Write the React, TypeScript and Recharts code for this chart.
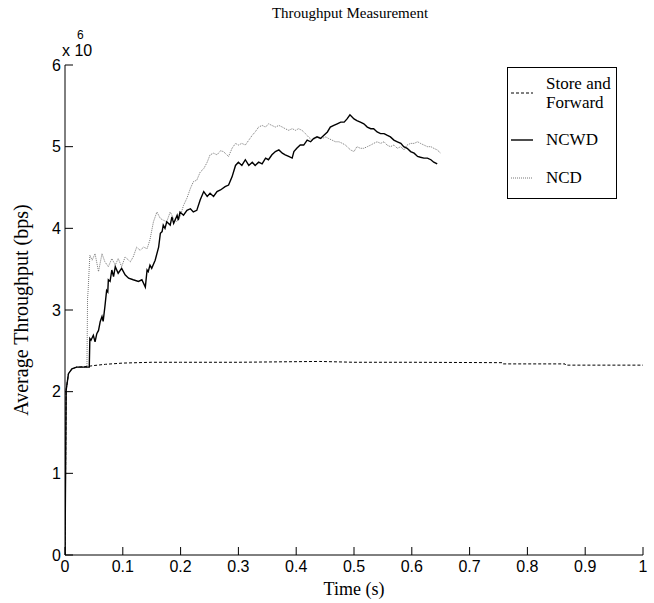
import React from 'react';
import { LineChart, Line, XAxis, YAxis } from 'recharts';

// Store and Forward (dashed), values in units of 10^6 bps
const sfTime = [0, 0.001, 0.002, 0.006, 0.012, 0.02, 0.04, 0.05, 0.07, 0.1, 0.15, 0.2, 0.3, 0.44, 0.5, 0.6, 0.757, 0.758, 0.865, 0.866, 1.0];
const sfValue = [0, 1.0, 2.02, 2.22, 2.28, 2.3, 2.31, 2.32, 2.335, 2.35, 2.36, 2.36, 2.36, 2.37, 2.36, 2.36, 2.355, 2.34, 2.34, 2.325, 2.325];

// NCWD (solid)
const ncwdTime = [
  0, 0.001, 0.002, 0.006, 0.012, 0.02, 0.042, 0.043, 0.045, 0.049, 0.052, 0.055, 0.058, 0.061, 0.064, 0.066,
  0.069, 0.072, 0.074, 0.075, 0.078, 0.081, 0.084, 0.087, 0.092, 0.098, 0.104, 0.11, 0.118, 0.127, 0.133,
  0.139, 0.142, 0.144, 0.147, 0.15, 0.156, 0.162, 0.165, 0.168, 0.17, 0.173, 0.176, 0.182, 0.185, 0.188,
  0.194, 0.196, 0.199, 0.205, 0.211, 0.217, 0.222, 0.228, 0.234, 0.24, 0.246, 0.251, 0.257, 0.263, 0.269,
  0.277, 0.283, 0.289, 0.295, 0.3, 0.306, 0.312, 0.318, 0.324, 0.329, 0.335, 0.341, 0.347, 0.352, 0.358,
  0.364, 0.37, 0.376, 0.381, 0.387, 0.393, 0.396, 0.401, 0.407, 0.413, 0.419, 0.425, 0.43, 0.436, 0.442,
  0.448, 0.454, 0.459, 0.465, 0.471, 0.477, 0.483, 0.488, 0.493, 0.5, 0.505, 0.511, 0.517, 0.523, 0.529,
  0.534, 0.54, 0.546, 0.552, 0.557, 0.563, 0.569, 0.575, 0.581, 0.586, 0.592, 0.598, 0.604, 0.61, 0.615,
  0.621, 0.627, 0.633, 0.638, 0.644,
];
const ncwdValue = [
  0, 1.0, 2.02, 2.22, 2.28, 2.3, 2.3, 2.65, 2.63, 2.69, 2.61, 2.71, 2.75, 2.86, 2.92, 2.86,
  3.04, 3.24, 3.22, 3.37, 3.35, 3.49, 3.41, 3.53, 3.45, 3.51, 3.43, 3.39, 3.37, 3.35, 3.37,
  3.28, 3.49, 3.47, 3.55, 3.51, 3.61, 3.77, 3.94, 3.96, 4.04, 4.0, 4.08, 4.04, 4.14, 4.06,
  4.16, 4.1, 4.2, 4.16, 4.22, 4.24, 4.2, 4.22, 4.35, 4.45, 4.39, 4.43, 4.39, 4.45, 4.47,
  4.51, 4.53, 4.63, 4.77, 4.81, 4.77, 4.84, 4.77, 4.81, 4.77, 4.81, 4.79, 4.86, 4.84, 4.9,
  4.94, 4.96, 4.92, 4.9, 4.88, 4.86, 4.94, 4.98, 5.02, 5.02, 5.08, 5.06, 5.1, 5.12, 5.1,
  5.14, 5.18, 5.24, 5.26, 5.28, 5.3, 5.3, 5.34, 5.39, 5.34, 5.32, 5.3, 5.28, 5.24, 5.22,
  5.22, 5.18, 5.16, 5.16, 5.14, 5.12, 5.08, 5.06, 5.04, 5.0, 4.98, 4.94, 4.92, 4.88, 4.87,
  4.86, 4.86, 4.84, 4.81, 4.79,
];

// NCD (dotted grey)
const ncdTime = [
  0, 0.001, 0.002, 0.006, 0.012, 0.02, 0.038, 0.039, 0.04, 0.043, 0.047, 0.052, 0.058, 0.064, 0.069, 0.075,
  0.081, 0.087, 0.092, 0.098, 0.104, 0.11, 0.113, 0.118, 0.124, 0.13, 0.136, 0.142, 0.147, 0.153, 0.159,
  0.165, 0.17, 0.176, 0.182, 0.188, 0.193, 0.199, 0.205, 0.211, 0.217, 0.222, 0.228, 0.234, 0.24, 0.246,
  0.251, 0.257, 0.263, 0.269, 0.274, 0.283, 0.289, 0.295, 0.3, 0.306, 0.312, 0.318, 0.324, 0.329, 0.335,
  0.341, 0.347, 0.352, 0.358, 0.364, 0.37, 0.376, 0.381, 0.387, 0.393, 0.399, 0.404, 0.41, 0.416, 0.421,
  0.427, 0.433, 0.439, 0.445, 0.451, 0.456, 0.462, 0.468, 0.474, 0.48, 0.485, 0.491, 0.494, 0.5, 0.505,
  0.511, 0.517, 0.523, 0.529, 0.534, 0.54, 0.546, 0.552, 0.557, 0.563, 0.569, 0.575, 0.581, 0.586, 0.592,
  0.598, 0.604, 0.61, 0.615, 0.621, 0.627, 0.633, 0.638, 0.644, 0.65,
];
const ncdValue = [
  0, 1.0, 2.02, 2.22, 2.28, 2.3, 2.3, 3.14, 3.24, 3.67, 3.61, 3.69, 3.47, 3.69, 3.59, 3.53,
  3.63, 3.55, 3.63, 3.53, 3.65, 3.61, 3.59, 3.65, 3.77, 3.73, 3.77, 3.75, 3.86, 4.08, 4.2,
  4.12, 4.1, 4.08, 4.2, 4.12, 4.08, 4.14, 4.28, 4.37, 4.49, 4.57, 4.59, 4.69, 4.73, 4.81,
  4.9, 4.92, 4.9, 4.95, 4.94, 4.88, 4.98, 5.04, 5.02, 5.04, 5.02, 5.08, 5.14, 5.18, 5.24,
  5.26, 5.24, 5.28, 5.26, 5.24, 5.26, 5.24, 5.22, 5.2, 5.22, 5.2, 5.22, 5.2, 5.16, 5.12,
  5.08, 5.1, 5.12, 5.1, 5.12, 5.1, 5.08, 5.06, 5.06, 5.04, 5.02, 4.98, 4.96, 4.94, 5.0,
  4.98, 4.98, 5.0, 5.02, 5.04, 5.06, 5.04, 5.06, 5.02, 5.0, 5.02, 4.98, 5.0, 4.96, 5.02,
  5.04, 5.04, 5.06, 5.04, 5.02, 5.0, 5.0, 4.98, 4.96, 4.92,
];

const xTicks = [0, 0.1, 0.2, 0.3, 0.4, 0.5, 0.6, 0.7, 0.8, 0.9, 1];
const yTicks = [0, 1, 2, 3, 4, 5, 6];

const toRows = (ts: number[], vs: number[]) => ts.map((t, i) => ({ t, v: vs[i] }));

const sfData = toRows(sfTime, sfValue);
const ncwdData = toRows(ncwdTime, ncwdValue);
const ncdData = toRows(ncdTime, ncdValue);

const serif = '"Liberation Serif", "Times New Roman", serif';
const sans = '"Liberation Sans", Arial, sans-serif';

const tickStyle = { fontFamily: sans, fontSize: 16, fill: '#000' };

const LegendRow = ({ top, dash, color, width }: any) => (
  <svg width={24} height={4} style={{ position: 'absolute', left: 3, top: top - 2 }}>
    <line x1={0} y1={2} x2={22} y2={2} stroke={color} strokeWidth={width} strokeDasharray={dash} />
  </svg>
);

const App = () => {
  return (
    <div style={{ position: 'absolute', left: 0, top: 0, width: 654, height: 603, background: '#fff' }}>
      <LineChart
        width={654}
        height={603}
        margin={{ top: 65, right: 11, bottom: 0, left: 0 }}
      >
        <XAxis
          type="number"
          dataKey="t"
          domain={[0, 1]}
          ticks={xTicks}
          allowDataOverflow
          height={48}
          stroke="#000"
          tickSize={-8}
          tickMargin={14}
          tick={tickStyle}
        />
        <YAxis
          type="number"
          dataKey="v"
          domain={[0, 6]}
          ticks={yTicks}
          width={65}
          stroke="#000"
          tickSize={-8}
          tickMargin={12}
          tick={tickStyle}
        />
        <Line data={sfData} dataKey="v" type="linear" stroke="#000" strokeWidth={1} strokeDasharray="3 2" dot={false} isAnimationActive={false} />
        <Line data={ncdData} dataKey="v" type="linear" stroke="#777" strokeWidth={1} strokeDasharray="1 1" dot={false} isAnimationActive={false} />
        <Line data={ncwdData} dataKey="v" type="linear" stroke="#000" strokeWidth={1.4} dot={false} isAnimationActive={false} />
      </LineChart>

      <div style={{ position: 'absolute', left: 0, top: 5, width: 700, textAlign: 'center', fontFamily: serif, fontSize: 15 }}>
        Throughput Measurement
      </div>
      <div style={{ position: 'absolute', left: 62, top: 43, fontFamily: sans, fontSize: 16, lineHeight: '16px' }}>x 10</div>
      <div style={{ position: 'absolute', left: 77, top: 29, fontFamily: sans, fontSize: 12, lineHeight: '12px' }}>6</div>
      <div
        style={{
          position: 'absolute', left: 21, top: 310, transform: 'translate(-50%, -50%) rotate(-90deg)',
          whiteSpace: 'nowrap', fontFamily: serif, fontSize: 20,
        }}
      >
        Average Throughput (bps)
      </div>
      <div style={{ position: 'absolute', left: 0, top: 579, width: 708, textAlign: 'center', fontFamily: serif, fontSize: 18 }}>
        Time (s)
      </div>

      <div style={{ position: 'absolute', left: 507, top: 67, width: 108, height: 130, border: '1px solid #000', background: '#fff', fontFamily: serif, fontSize: 17 }}>
        <LegendRow top={25} dash="3 2" color="#000" width={1} />
        <div style={{ position: 'absolute', left: 38, top: 6, lineHeight: '19px' }}>Store and<br />Forward</div>
        <LegendRow top={72} color="#000" width={1.4} />
        <div style={{ position: 'absolute', left: 38, top: 62, lineHeight: '19px' }}>NCWD</div>
        <LegendRow top={110} dash="1 1" color="#777" width={1} />
        <div style={{ position: 'absolute', left: 38, top: 100, lineHeight: '19px' }}>NCD</div>
      </div>
    </div>
  );
};

export default App;
